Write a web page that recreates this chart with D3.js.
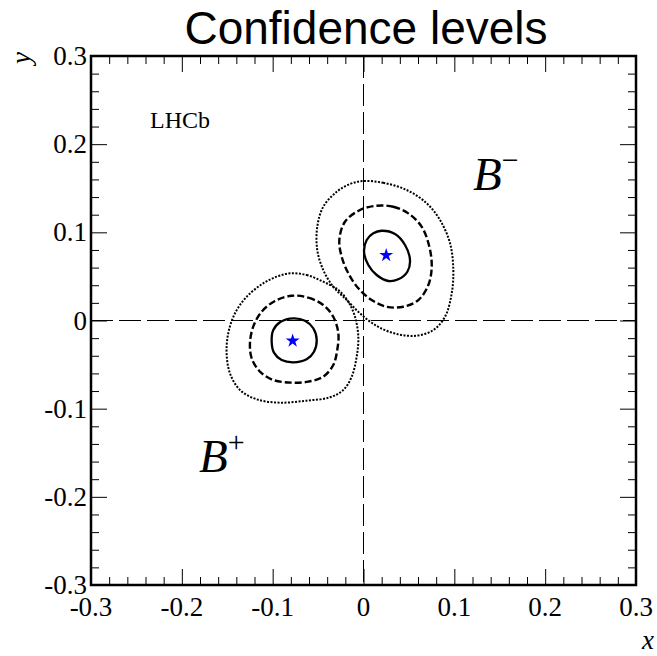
<!DOCTYPE html>
<html>
<head>
<meta charset="utf-8">
<script src="https://cdn.jsdelivr.net/npm/d3@7"></script>
<style>
  body { margin: 0; background: #fff; }
  text { fill: #000; }
</style>
</head>
<body>
<svg id="chart" width="657" height="656"></svg>
<script>
// Axis ticks and labels
const xTickValues = [-0.3, -0.2, -0.1, 0, 0.1, 0.2, 0.3];
const xTickLabels = ["-0.3", "-0.2", "-0.1", "0", "0.1", "0.2", "0.3"];
const yTickValues = [-0.3, -0.2, -0.1, 0, 0.1, 0.2, 0.3];
const yTickLabels = ["-0.3", "-0.2", "-0.1", "0", "0.1", "0.2", "0.3"];

// Best-fit points (x, y)
const bestFitNames = ["B+", "B-"];
const bestFitX = [-0.078, 0.025];
const bestFitY = [-0.023, 0.074];

// B+ confidence contours: [x, y]
const bPlus1 = [[-0.0773,0.0025],[-0.0644,-0.0002],[-0.0553,-0.0088],[-0.0515,-0.0221],[-0.0545,-0.0354],[-0.0626,-0.0440],[-0.0773,-0.0474],[-0.0901,-0.0448],[-0.0986,-0.0365],[-0.1011,-0.0240],[-0.0993,-0.0108],[-0.0912,-0.0014]];
const bPlus2 = [[-0.0791,0.0281],[-0.0608,0.0259],[-0.0443,0.0176],[-0.0333,0.0043],[-0.0277,-0.0145],[-0.0289,-0.0334],[-0.0333,-0.0505],[-0.0443,-0.0637],[-0.0608,-0.0694],[-0.0791,-0.0705],[-0.0993,-0.0675],[-0.1140,-0.0580],[-0.1231,-0.0429],[-0.1250,-0.0259],[-0.1214,-0.0070],[-0.1121,0.0100],[-0.0975,0.0221]];
const bPlus3 = [[-0.0809,0.0535],[-0.0626,0.0516],[-0.0443,0.0440],[-0.0277,0.0346],[-0.0167,0.0213],[-0.0094,0.0043],[-0.0057,-0.0184],[-0.0075,-0.0410],[-0.0130,-0.0637],[-0.0222,-0.0788],[-0.0369,-0.0871],[-0.0626,-0.0909],[-0.0920,-0.0932],[-0.1176,-0.0894],[-0.1360,-0.0788],[-0.1470,-0.0599],[-0.1507,-0.0372],[-0.1489,-0.0145],[-0.1415,0.0082],[-0.1286,0.0270],[-0.1104,0.0422],[-0.0956,0.0497]];

// B- confidence contours: [x, y]
const bMinus1 = [[0.0200,0.1018],[0.0347,0.0981],[0.0457,0.0856],[0.0512,0.0686],[0.0483,0.0553],[0.0383,0.0467],[0.0273,0.0448],[0.0145,0.0516],[0.0053,0.0629],[0.0006,0.0780],[0.0035,0.0913],[0.0108,0.0989]];
const bMinus2 = [[0.0145,0.1302],[0.0328,0.1290],[0.0493,0.1215],[0.0641,0.1063],[0.0725,0.0837],[0.0751,0.0610],[0.0714,0.0402],[0.0604,0.0232],[0.0438,0.0156],[0.0255,0.0156],[0.0090,0.0232],[-0.0057,0.0365],[-0.0167,0.0535],[-0.0240,0.0723],[-0.0266,0.0913],[-0.0204,0.1120],[-0.0039,0.1253]];
const bMinus3 = [[-0.0002,0.1582],[0.0218,0.1562],[0.0476,0.1480],[0.0696,0.1329],[0.0843,0.1139],[0.0953,0.0875],[0.0989,0.0573],[0.0971,0.0308],[0.0898,0.0043],[0.0769,-0.0108],[0.0586,-0.0172],[0.0366,-0.0153],[0.0145,-0.0062],[-0.0039,0.0082],[-0.0185,0.0232],[-0.0333,0.0383],[-0.0443,0.0573],[-0.0509,0.0799],[-0.0509,0.1063],[-0.0443,0.1290],[-0.0295,0.1460],[-0.0149,0.1548]];

const contourLevels = ["1sigma", "2sigma", "3sigma"];

const svg = d3.select("#chart");
const frame = { left: 91, right: 636, top: 56, bottom: 585 };

const x = d3.scaleLinear().domain([-0.3, 0.3]).range([frame.left, frame.right]);
const y = d3.scaleLinear().domain([-0.3, 0.3]).range([frame.bottom, frame.top]);

const serif = "'Liberation Serif', 'Times New Roman', serif";
const sans = "'Liberation Sans', Arial, Helvetica, sans-serif";

// Title
svg.append("text")
  .attr("x", 366).attr("y", 44)
  .attr("text-anchor", "middle")
  .style("font-family", sans).style("font-size", "46px")
  .text("Confidence levels");

// Axes with major and minor ticks on all four sides
const minorVals = d3.range(-30, 31, 2).map(v => v / 100).filter(v => !xTickValues.some(t => Math.abs(t - v) < 1e-9));
const majorLen = 16, minorLen = 8;

function tickAxis(axisFn, scale, values, len, transform) {
  const g = svg.append("g").attr("transform", transform)
    .call(axisFn(scale).tickValues(values).tickSize(len).tickFormat(""));
  g.select(".domain").remove();
  g.selectAll(".tick line").attr("stroke", "#000").attr("stroke-width", 1);
  return g;
}

// bottom (ticks pointing up), top (ticks pointing down)
tickAxis(d3.axisTop, x, xTickValues, majorLen, `translate(0,${frame.bottom})`);
tickAxis(d3.axisTop, x, minorVals, minorLen, `translate(0,${frame.bottom})`);
tickAxis(d3.axisBottom, x, xTickValues, majorLen, `translate(0,${frame.top})`);
tickAxis(d3.axisBottom, x, minorVals, minorLen, `translate(0,${frame.top})`);
// left (ticks pointing right), right (ticks pointing left)
tickAxis(d3.axisRight, y, yTickValues, majorLen, `translate(${frame.left},0)`);
tickAxis(d3.axisRight, y, minorVals, minorLen, `translate(${frame.left},0)`);
tickAxis(d3.axisLeft, y, yTickValues, majorLen, `translate(${frame.right},0)`);
tickAxis(d3.axisLeft, y, minorVals, minorLen, `translate(${frame.right},0)`);

// Tick labels
svg.append("g").selectAll("text").data(xTickValues).join("text")
  .attr("x", d => x(d)).attr("y", frame.bottom + 31)
  .attr("text-anchor", "middle")
  .style("font-family", serif).style("font-size", "27px")
  .text((d, i) => xTickLabels[i]);

svg.append("g").selectAll("text").data(yTickValues).join("text")
  .attr("x", frame.left - 4).attr("y", d => y(d) + 9)
  .attr("text-anchor", "end")
  .style("font-family", serif).style("font-size", "27px")
  .text((d, i) => yTickLabels[i]);

// Axis titles
svg.append("text")
  .attr("x", 654).attr("y", 649)
  .attr("text-anchor", "end")
  .style("font-family", serif).style("font-style", "italic").style("font-size", "27px")
  .text("x");
svg.append("text")
  .attr("transform", `translate(30,${frame.top - 4}) rotate(-90)`)
  .attr("text-anchor", "end")
  .style("font-family", serif).style("font-style", "italic").style("font-size", "27px")
  .text("y");

// Zero lines
svg.append("line")
  .attr("x1", x(0)).attr("x2", x(0)).attr("y1", frame.top).attr("y2", frame.bottom)
  .attr("stroke", "#000").attr("stroke-width", 1).attr("stroke-dasharray", "22,6");
svg.append("line")
  .attr("x1", frame.left).attr("x2", frame.right).attr("y1", y(0)).attr("y2", y(0))
  .attr("stroke", "#000").attr("stroke-width", 1).attr("stroke-dasharray", "22,6");

// Contours
const line = d3.line().x(d => x(d[0])).y(d => y(d[1])).curve(d3.curveCatmullRomClosed.alpha(0.5));
const styles = {
  "1sigma": { width: 2.3, dash: null },
  "2sigma": { width: 2.4, dash: "7,3" },
  "3sigma": { width: 2, dash: "2,1.5" }
};
const contours = [
  [bPlus1, "1sigma"], [bPlus2, "2sigma"], [bPlus3, "3sigma"],
  [bMinus1, "1sigma"], [bMinus2, "2sigma"], [bMinus3, "3sigma"]
];
svg.append("g").selectAll("path").data(contours).join("path")
  .attr("d", d => line(d[0]))
  .attr("fill", "none")
  .attr("stroke", "#000")
  .attr("stroke-width", d => styles[d[1]].width)
  .attr("stroke-dasharray", d => styles[d[1]].dash);

// Best-fit markers
svg.append("g").selectAll("path").data(bestFitNames).join("path")
  .attr("transform", (d, i) => `translate(${x(bestFitX[i])},${y(bestFitY[i])})`)
  .attr("d", d3.symbol().type(d3.symbolStar).size(60))
  .attr("fill", "#0000ff");

// Frame
svg.append("rect")
  .attr("x", frame.left).attr("y", frame.top)
  .attr("width", frame.right - frame.left).attr("height", frame.bottom - frame.top)
  .attr("fill", "none").attr("stroke", "#000").attr("stroke-width", 2.5);

// Annotations
svg.append("text")
  .attr("x", 150).attr("y", 128)
  .style("font-family", serif).style("font-size", "24px")
  .text("LHCb");

function chargeLabel(px, py, sign) {
  const t = svg.append("text").attr("x", px).attr("y", py)
    .style("font-family", serif).style("font-size", "47px");
  t.append("tspan").style("font-style", "italic").text("B");
  t.append("tspan").attr("dy", -20).style("font-size", "30px").text(sign);
}
chargeLabel(473, 190, "\u2212");
chargeLabel(199, 472, "+");
</script>
</body>
</html>
